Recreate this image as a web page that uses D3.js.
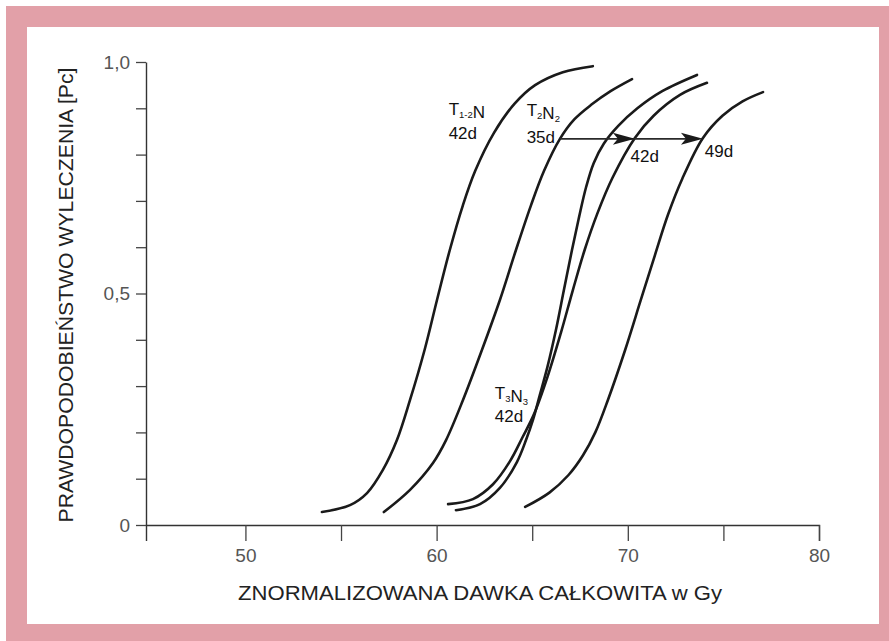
<!DOCTYPE html>
<html>
<head>
<meta charset="utf-8">
<script src="https://cdn.jsdelivr.net/npm/d3@7"></script>
<style>
  html, body { margin: 0; padding: 0; background: #ffffff; }
  svg { display: block; }
</style>
</head>
<body>
<svg id="chart" width="889" height="641"></svg>
<script>
// Total normalised dose (Gy) vs. probability of cure (Pc), one array per curve
const curveT12N42 = [[54.0,0.028],[55.47,0.043],[56.36,0.069],[57.19,0.119],[57.93,0.184],[58.61,0.27],[59.37,0.378],[60.02,0.486],[60.69,0.594],[61.37,0.69],[62.02,0.765],[63.0,0.847],[64.08,0.91],[65.15,0.95],[66.6,0.978],[68.17,0.991]];
const curveT2N235 = [[57.24,0.028],[58.61,0.076],[59.81,0.134],[60.5,0.184],[61.38,0.27],[62.37,0.378],[63.31,0.486],[64.15,0.594],[64.94,0.691],[65.62,0.765],[66.45,0.834],[67.2,0.876],[68.1,0.908],[69.1,0.937],[70.22,0.963]];
const curveT3N342 = [[61.01,0.032],[62.27,0.045],[63.31,0.08],[64.2,0.136],[64.68,0.184],[65.04,0.227],[65.4,0.281],[65.8,0.342],[66.24,0.421],[66.66,0.508],[67.08,0.594],[67.45,0.665],[67.82,0.73],[68.22,0.782],[68.75,0.824],[69.5,0.862],[70.5,0.9],[71.8,0.937],[73.62,0.972]];
const curveT2N242 = [[60.6,0.045],[61.9,0.056],[62.95,0.088],[63.84,0.138],[64.5,0.19],[65.1,0.24],[65.8,0.32],[66.5,0.415],[67.13,0.508],[67.75,0.595],[68.4,0.672],[69.2,0.75],[70.37,0.836],[71.35,0.884],[72.73,0.929],[74.14,0.955]];
const curveT2N249 = [[64.63,0.039],[65.9,0.07],[66.9,0.108],[67.65,0.15],[68.3,0.2],[68.96,0.27],[69.86,0.378],[70.68,0.486],[71.42,0.583],[72.1,0.67],[72.85,0.748],[73.93,0.836],[74.95,0.884],[76.0,0.915],[77.07,0.935]];

const allCurves = [curveT12N42, curveT2N235, curveT3N342, curveT2N242, curveT2N249];

// Horizontal shift arrows for the T2N2 schedule (35d -> 42d -> 49d)
const arrowPc = 0.834;
const arrowStart = 66.45;
const arrowTargets = [70.37, 73.93];

// Axis ticks and their printed labels
const xTicks = [50, 55, 60, 65, 70, 75, 80];
const xTickLabels = ["50", "", "60", "", "70", "", "80"];
const yTicks = [0, 0.1, 0.2, 0.3, 0.4, 0.5, 0.6, 0.7, 0.8, 0.9, 1.0];
const yTickLabels = ["0", "", "", "", "", "0,5", "", "", "", "", "1,0"];

const xTitle = "ZNORMALIZOWANA DAWKA CAŁKOWITA w Gy";
const yTitle = "PRAWDOPODOBIEŃSTWO WYLECZENIA [Pc]";

const svg = d3.select("#chart");
const W = 889, H = 641;

// pink frame with white panel
svg.append("rect").attr("x", 6).attr("y", 6).attr("width", W - 6).attr("height", H - 6).attr("fill", "#e2a0a8");
svg.append("rect").attr("x", 27).attr("y", 27).attr("width", 852).attr("height", 597).attr("fill", "#ffffff");

const x = d3.scaleLinear().domain([44.8, 80]).range([146, 819]);
const y = d3.scaleLinear().domain([0, 1]).range([525, 62]);

const font = "'Liberation Sans', Arial, Helvetica, sans-serif";

// x axis
const xAxis = d3.axisBottom(x)
  .tickValues(xTicks)
  .tickSizeInner(16)
  .tickSizeOuter(16)
  .tickPadding(8)
  .tickFormat((d, i) => xTickLabels[i]);
const gx = svg.append("g").attr("transform", `translate(0,${y(0)})`).call(xAxis);
gx.select(".domain").attr("stroke", "#333").attr("stroke-width", 1.4);
gx.selectAll(".tick line").attr("stroke", "#444").attr("stroke-width", 1.3);
gx.selectAll(".tick text").attr("font-family", font).attr("font-size", 19).attr("fill", "#555");

// y axis
const yAxis = d3.axisLeft(y)
  .tickValues(yTicks)
  .tickSizeInner(10)
  .tickSizeOuter(0)
  .tickPadding(6)
  .tickFormat((d, i) => yTickLabels[i]);
const gy = svg.append("g").attr("transform", `translate(${x(44.8)},0)`).call(yAxis);
gy.select(".domain").attr("stroke", "#333").attr("stroke-width", 1.4);
gy.selectAll(".tick line").attr("stroke", "#444").attr("stroke-width", 1.3);
gy.selectAll(".tick text").attr("font-family", font).attr("font-size", 19).attr("fill", "#555");

// axis titles
svg.append("text")
  .attr("x", 480).attr("y", 600)
  .attr("text-anchor", "middle")
  .attr("font-family", font).attr("font-size", 20)
  .attr("textLength", 484).attr("lengthAdjust", "spacingAndGlyphs")
  .attr("fill", "#222")
  .text(xTitle);

svg.append("text")
  .attr("transform", "translate(73,295) rotate(-90)")
  .attr("text-anchor", "middle")
  .attr("font-family", font).attr("font-size", 21)
  .attr("textLength", 455).attr("lengthAdjust", "spacingAndGlyphs")
  .attr("fill", "#222")
  .text(yTitle);

// dose-response curves
const line = d3.line()
  .x(d => x(d[0]))
  .y(d => y(d[1]))
  .curve(d3.curveCatmullRom.alpha(0.5));

svg.append("g").selectAll("path")
  .data(allCurves)
  .join("path")
  .attr("d", line)
  .attr("fill", "none")
  .attr("stroke", "#1a1a1a")
  .attr("stroke-width", 2.6)
  .attr("stroke-linecap", "round");

// arrows
const ay = y(arrowPc);
svg.append("line")
  .attr("x1", x(arrowStart)).attr("y1", ay)
  .attr("x2", x(arrowTargets[arrowTargets.length - 1]) - 4).attr("y2", ay)
  .attr("stroke", "#2a2a2a").attr("stroke-width", 1.6);
svg.append("g").selectAll("path")
  .data(arrowTargets)
  .join("path")
  .attr("d", t => {
    const tx = x(t);
    return `M${tx},${ay} L${tx - 22},${ay - 6} L${tx - 17},${ay} L${tx - 22},${ay + 6} Z`;
  })
  .attr("fill", "#1a1a1a");

// curve annotations: position in (Gy, Pc), main text, subscripts
function label(gx0, pc, parts) {
  const t = svg.append("text")
    .attr("x", x(gx0)).attr("y", y(pc))
    .attr("font-family", font).attr("font-size", 17)
    .attr("fill", "#111");
  parts.forEach(p => {
    if (p.sub) {
      t.append("tspan").attr("font-size", 9.5).attr("dy", 3).text(p.sub);
      t.append("tspan").attr("dy", -3).text("");
    } else {
      t.append("tspan").text(p.text);
    }
  });
}

label(60.63, 0.886, [{text: "T"}, {sub: "1-2"}, {text: "N"}]);
label(60.63, 0.834, [{text: "42d"}]);
label(64.71, 0.883, [{text: "T"}, {sub: "2"}, {text: "N"}, {sub: "2"}]);
label(64.71, 0.825, [{text: "35d"}]);
label(70.14, 0.784, [{text: "42d"}]);
label(74.03, 0.795, [{text: "49d"}]);
label(63.04, 0.272, [{text: "T"}, {sub: "3"}, {text: "N"}, {sub: "3"}]);
label(63.04, 0.222, [{text: "42d"}]);
</script>
</body>
</html>
